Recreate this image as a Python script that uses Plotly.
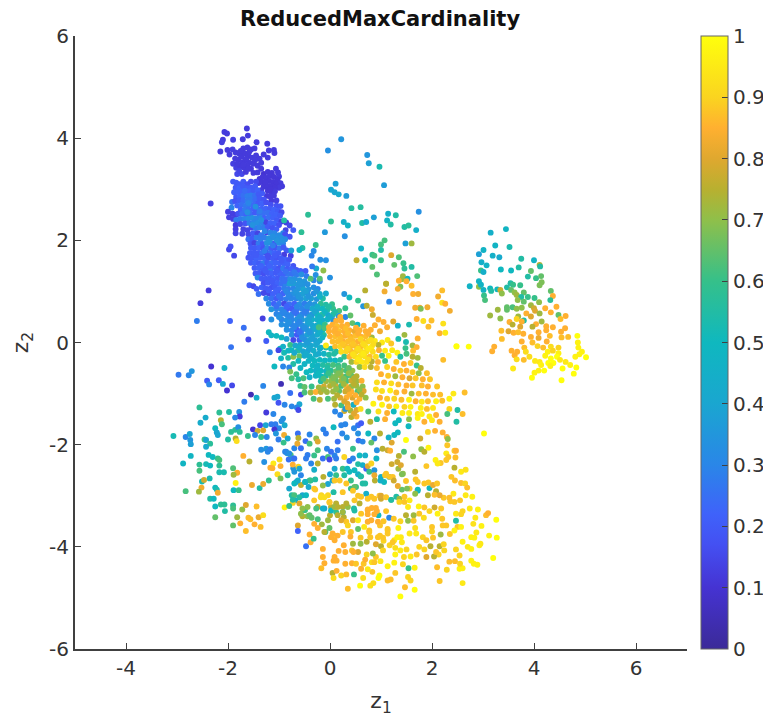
import plotly.graph_objects as go

# each entry: z1, z2, ReducedMaxCardinality
top_dark = [(-1.63,4.19,.12),(-2.07,4.12,.12),(-2.02,4.09,.12),(-1.61,4.05,.12),(-1.71,3.98,.12),(-1.9,3.97,.13),(-2.1,3.97,.12),(-2.12,3.92,.13),(-1.44,3.92,.12),(-1.23,3.89,.12),(-2.15,3.74,.12),(-2.01,3.77,.12),(-1.91,3.78,.13),(-1.97,3.68,.12),(-1.2,3.76,.12),(-1.1,3.77,.12),(-1.09,3.71,.12),
(-1.85,3.72,.12),(-1.78,3.7,.12),(-1.7,3.8,.12),(-1.62,3.82,.12),(-1.55,3.78,.12),(-1.48,3.8,.12),(-1.86,3.6,.12),(-1.8,3.58,.12),(-1.74,3.64,.12),(-1.67,3.7,.12),(-1.6,3.66,.12),(-1.53,3.62,.12),(-1.45,3.66,.12),(-1.38,3.6,.12),(-1.3,3.68,.12),(-1.22,3.62,.12),(-1.72,3.53,.12),(-1.66,3.57,.12),(-1.58,3.52,.12),(-1.5,3.5,.12),(-1.42,3.46,.12),(-1.84,3.42,.13),(-1.76,3.44,.12),(-1.68,3.42,.12),(-1.62,3.46,.12),(-1.55,3.4,.12),(-1.35,3.52,.12),(-1.9,3.5,.13),(-1.82,3.3,.15),(-1.73,3.3,.15),(-1.65,3.34,.12),(-1.5,3.32,.12),(-1.42,3.33,.12),
(-1.3,3.3,.1),(-1.22,3.34,.11),(-1.14,3.32,.11),(-1.06,3.4,.12),(-1.02,3.33,.12),(-1.0,3.25,.12),(-1.38,3.2,.11),(-1.32,3.24,.11),(-1.25,3.22,.11),(-1.18,3.26,.11),(-1.1,3.24,.11),(-1.03,3.18,.11),(-.97,3.12,.12),(-.94,3.06,.12),(-1.4,3.12,.12),(-1.33,3.14,.11),(-1.26,3.13,.11),(-1.19,3.16,.11),(-1.12,3.14,.11),(-1.05,3.1,.11),(-1.0,3.03,.12),(-1.3,3.05,.11),(-1.22,3.06,.11),(-1.15,3.06,.11),(-1.08,3.03,.11),(-1.22,2.97,.11),(-1.15,2.95,.11),(-1.08,2.96,.12),(-1.24,2.87,.12),(-1.17,2.86,.12),(-1.1,2.88,.12),(-1.15,2.78,.12),(-1.05,2.78,.13),
(-1.75,3.75,.12),(-1.58,3.74,.12),(-1.82,3.5,.12),(-1.64,3.6,.12),(-1.47,3.57,.12),(-1.6,3.4,.12),(-1.7,3.48,.12),(-1.78,3.36,.14),(-1.35,3.4,.12),(-1.27,3.14,.11),(-1.17,3.0,.11),(-1.35,2.98,.12)]

col_upper = [(-1.9,3.15,.2),(-1.84,3.13,.2),(-1.78,3.1,.2),(-1.7,3.15,.2),(-1.62,3.1,.17),(-1.55,3.15,.16),(-1.45,3.15,.16),(-1.85,3.03,.2),(-1.78,3.02,.22),(-1.7,3.05,.2),(-1.63,3.02,.2),(-1.55,3.03,.2),(-1.47,3.06,.2),(-1.88,2.94,.22),(-1.8,2.95,.22),(-1.73,2.96,.22),(-1.66,2.95,.24),(-1.58,2.96,.22),(-1.5,2.97,.2),(-1.42,2.98,.22),(-1.84,2.85,.2),(-1.77,2.86,.22),(-1.7,2.88,.25),(-1.62,2.87,.28),(-1.55,2.88,.28),(-1.47,2.88,.25),(-1.4,2.9,.2),(-1.33,2.92,.2),(-1.92,2.75,.25),(-1.86,2.77,.18),(-1.78,2.78,.2),(-1.7,2.78,.24),(-1.62,2.78,.27),(-1.54,2.79,.27),(-1.46,2.8,.24),(-1.38,2.82,.2),(-1.3,2.8,.18),(-2.34,2.72,.13),(-1.93,2.64,.3),(-1.82,2.68,.22),(-1.73,2.7,.25),(-1.65,2.68,.27),(-1.57,2.7,.27),(-1.49,2.7,.24),(-1.41,2.72,.2),(-1.33,2.72,.22),(-1.25,2.74,.17),(-1.16,2.7,.17),(-1.05,2.68,.18),(-.97,2.67,.18),(-2.0,2.56,.13),(-1.91,2.52,.13),(-1.84,2.5,.13),(-1.75,2.6,.22),(-1.67,2.6,.27),(-1.59,2.6,.25),(-1.5,2.62,.22),(-1.42,2.62,.24),(-1.34,2.62,.22),(-1.26,2.62,.22),(-1.18,2.62,.2),(-1.1,2.6,.22),(-1.02,2.58,.2),(-.95,2.55,.15),(-1.98,2.45,.13),(-1.9,2.42,.13),(-1.8,2.52,.18),(-1.72,2.52,.25),(-1.64,2.5,.22),(-1.56,2.52,.24),(-1.47,2.54,.2),(-1.39,2.52,.25),(-1.31,2.53,.25),(-1.22,2.54,.25),(-1.14,2.52,.22),(-1.06,2.5,.22),(-.98,2.48,.2),(-1.84,2.4,.28),(-1.76,2.42,.28),(-1.68,2.42,.3),(-1.6,2.43,.33),(-1.52,2.44,.33),(-1.44,2.43,.3),(-1.36,2.44,.3),(-1.28,2.44,.22),(-1.2,2.45,.25),(-1.12,2.44,.22),(-1.04,2.4,.2),(-.95,2.37,.13),(-.86,2.35,.13),(-1.85,2.3,.12),(-1.76,2.32,.15),(-1.66,2.33,.18),(-1.58,2.34,.28),(-1.5,2.35,.3),(-1.42,2.34,.33),(-1.33,2.35,.3),(-1.25,2.35,.14),(-1.17,2.34,.22),(-1.09,2.33,.22),(-1.0,2.3,.17),(-.79,2.29,.15),(-1.85,2.22,.13),(-1.7,2.22,.14),(-1.62,2.2,.14),(-1.54,2.25,.15),(-1.46,2.24,.28),(-1.38,2.25,.3),(-1.3,2.25,.28),(-1.22,2.26,.2),(-1.13,2.24,.18),(-1.05,2.22,.2),(-.87,2.2,.14),(-.72,2.2,.2),(-1.85,2.14,.14),(-1.72,2.13,.14),(-1.6,2.12,.15),(-1.51,2.14,.2),(-1.42,2.14,.14),(-1.35,2.1,.27),(-1.25,2.16,.14),(-1.17,2.15,.3),(-1.09,2.14,.3),(-1.0,2.1,.32),(-.92,2.14,.3),(-.88,2.12,.17),(-.79,2.07,.18)]

col_lower = [(-1.6,2.02,.25),(-1.52,2.04,.2),(-1.44,2.05,.28),(-1.36,2.02,.28),(-1.28,2.05,.28),(-1.2,2.04,.33),(-1.12,2.05,.33),(-1.04,2.03,.33),(-.96,2.05,.33),(-.88,2.02,.32),(-1.56,1.94,.18),(-1.48,1.95,.14),(-1.4,1.94,.27),(-1.32,1.93,.2),(-1.24,1.95,.33),(-1.16,1.95,.33),(-1.08,1.94,.18),(-1.0,1.95,.33),(-.92,1.94,.3),(-1.98,1.82,.15),(-1.95,1.88,.17),(-1.55,1.85,.2),(-1.47,1.85,.2),(-1.39,1.85,.22),(-1.31,1.84,.18),(-1.23,1.85,.3),(-1.15,1.84,.2),(-1.07,1.85,.18),(-.99,1.84,.26),(-.91,1.86,.2),(-.85,1.8,.2),(-1.88,1.7,.15),(-1.57,1.75,.2),(-1.49,1.76,.2),(-1.41,1.75,.2),(-1.33,1.75,.25),(-1.25,1.76,.15),(-1.17,1.75,.25),(-1.09,1.75,.22),(-1.01,1.75,.2),(-.9,1.72,.13),(-.77,1.7,.13),(-1.6,1.66,.18),(-1.52,1.66,.2),(-1.44,1.65,.22),(-1.36,1.66,.22),(-1.28,1.65,.22),(-1.2,1.66,.17),(-1.12,1.65,.2),(-1.04,1.66,.18),(-.96,1.65,.2),(-.88,1.62,.22),(-.8,1.62,.18),(-1.55,1.56,.2),(-1.47,1.56,.22),(-1.39,1.55,.2),(-1.31,1.55,.28),(-1.23,1.56,.2),(-1.15,1.55,.24),(-1.07,1.56,.22),(-.99,1.55,.22),(-.91,1.55,.22),(-.83,1.53,.22),(-.72,1.5,.18),(-1.48,1.46,.2),(-1.4,1.46,.22),(-1.32,1.45,.2),(-1.24,1.46,.2),(-1.16,1.45,.27),(-1.08,1.46,.22),(-1.0,1.45,.18),(-.92,1.45,.27),(-.84,1.44,.2),(-.76,1.44,.22),(-.66,1.42,.2),(-.58,1.4,.22),(-.48,1.4,.2),(-1.46,1.35,.2),(-1.38,1.36,.2),(-1.3,1.35,.17),(-1.22,1.36,.2),(-1.14,1.35,.22),(-1.06,1.36,.2),(-.98,1.35,.22),(-.9,1.34,.22),(-.82,1.34,.27),(-.74,1.34,.25),(-.66,1.32,.28),(-.56,1.33,.33),(-.46,1.3,.28),(-1.42,1.27,.3),(-1.34,1.25,.2),(-1.26,1.25,.2),(-1.18,1.26,.2),(-1.1,1.25,.22),(-1.02,1.26,.2),(-.94,1.25,.25),(-.86,1.24,.25),(-.78,1.24,.33),(-.7,1.24,.33),(-.6,1.22,.35),(-.5,1.2,.35),(-.32,1.22,.3),(-.2,1.2,.32),(-1.3,1.16,.17),(-1.22,1.17,.2),(-1.12,1.16,.2),(-1.03,1.16,.22),(-.95,1.15,.25),(-.87,1.15,.3),(-.79,1.15,.38),(-.71,1.15,.4),(-.63,1.13,.35),(-.54,1.12,.35),(-.44,1.14,.33)]

band = [(-1.58,1.12,.2),(-1.5,1.1,.15),(-1.44,1.05,.2),(-1.34,1.08,.22),(-1.26,1.06,.2),(-1.16,1.07,.18),(-1.08,1.08,.2),(-1,1.05,.22),(-.9,1.06,.28),(-.82,1.05,.28),(-.72,1.06,.3),(-.62,1.05,.35),(-.52,1.04,.4),(-.42,1.04,.35),(-.32,1.08,.33),(-.24,1.05,.3),(-1.4,.95,.25),(-1.3,.97,.15),(-1.2,.96,.15),(-1.12,.95,.22),(-1.02,.96,.2),(-.92,.96,.22),(-.82,.96,.3),(-.73,.95,.33),(-.64,.95,.35),(-.54,.95,.38),(-.44,.96,.33),(-.32,.96,.32),(-.2,.95,.42),(-.08,.96,.42),(-1.25,.86,.3),(-1.15,.86,.25),(-1.05,.86,.2),(-.96,.86,.25),(-.86,.85,.28),(-.76,.86,.3),(-.66,.86,.3),(-.57,.85,.35),(-.47,.86,.38),(-.37,.86,.38),(-.26,.85,.35),(-.14,.86,.55),(-1.2,.76,.32),(-1.1,.76,.22),(-1,.76,.27),(-.9,.76,.15),(-.8,.75,.25),(-.7,.76,.22),(-.6,.75,.33),(-.5,.76,.28),(-.4,.76,.33),(-.3,.75,.35),(-.18,.76,.58),(-.08,.74,.55),(.04,.75,.6),(-1.15,.65,.35),(-1.05,.66,.3),(-.95,.65,.3),(-.85,.65,.2),(-.75,.66,.2),(-.65,.65,.25),(-.55,.66,.3),(-.45,.65,.25),(-.35,.66,.42),(-.25,.65,.38),(-.15,.66,.5),(-.05,.64,.55),(.06,.66,.6),(.18,.62,.62),(.3,.67,.6),(-1.05,.56,.3),(-.95,.56,.3),(-.85,.55,.3),(-.75,.55,.3),(-.65,.56,.25),(-.55,.55,.3),(-.45,.56,.3),(-.35,.55,.35),(-.25,.55,.5),(-.15,.55,.55),(-.04,.54,.4),(.06,.55,.55),(.17,.52,.35),(.3,.5,.3),(.4,.53,.65),(-1.15,.45,.33),(-.95,.45,.3),(-.85,.44,.33),(-.75,.45,.3),(-.65,.45,.33),(-.55,.45,.35),(-.45,.44,.38),(-.35,.45,.45),(-.25,.45,.45),(-.15,.44,.45),(-.05,.45,.48),(.06,.44,.33),(-.95,.35,.33),(-.85,.34,.33),(-.75,.35,.3),(-.65,.35,.3),(-.55,.34,.33),(-.45,.35,.38),(-.35,.34,.4),(-.25,.34,.45),(-.15,.33,.55),(-.85,.25,.33),(-.75,.24,.3),(-.65,.25,.2),(-.55,.24,.28),(-.45,.25,.35),(-.35,.24,.38),(-.25,.24,.4),(-.15,.24,.5),(-.75,.15,.33),(-.65,.15,.2),(-.55,.14,.3),(-.45,.15,.38),(-.35,.14,.38),(-.25,.15,.42),(-.12,.15,.55),(-1.2,.2,.5),(-1.15,.14,.47),(-1.05,.13,.5),(-.95,.1,.5),(-.85,.07,.38),(-.72,.05,.15),(-.6,.05,.2),(-.5,.06,.33),(-.4,.05,.38),(-.3,.05,.38),(-.2,.04,.42),(-1.25,.03,.2),(-.78,-.05,.6),(-.68,-.06,.4),(-.58,-.05,.38),(-.48,-.05,.4),(-.38,-.06,.4),(-.28,-.05,.42),(-.75,-.15,.5),(-.63,-.16,.55),(-.53,-.17,.4),(-.43,-.16,.38),(-.32,-.16,.45),(-.9,-.2,.52),(-.82,-.3,.55),(-.72,-.28,.7),(-.6,-.27,.65),(-.5,-.26,.42),(-.4,-.27,.45)]

band_between = [(-1.67,2.97,.24),(-1.6,2.73,.3),(-1.46,2.66,.33),(-1.62,2.55,.33),(-1.38,2.57,.28),(-1.52,2.3,.34),(-1.35,2.4,.33),(-1.28,2.18,.3),(-1.12,2.08,.33),(-1.2,1.99,.34),(-1.04,2.0,.34),(-.94,2.0,.33),(-1.12,1.9,.28),(-1.28,1.79,.28),(-1.45,1.71,.2),(-1.22,1.7,.17),(-1.08,1.7,.2),(-.95,1.6,.2),(-1.35,1.5,.22),(-1.19,1.5,.22),(-1.04,1.41,.2),(-.87,1.39,.25),(-.7,1.38,.27),(-1.27,1.41,.2),(-1.14,1.21,.2),(-.9,1.2,.25),(-.74,1.19,.35),(-.58,1.17,.35),(-1.2,1.02,.2),(-1.06,1.01,.22),(-.86,1.01,.3),(-.67,1.0,.35),(-.47,1.0,.38),(-.27,1.0,.35),(-1.0,.91,.25),(-.81,.91,.3),(-.62,.9,.35),(-.42,.9,.35),(-.2,.9,.45),(-1.05,.71,.25),(-.85,.71,.22),(-.65,.7,.3),(-.45,.7,.33),(-.25,.7,.45),(-.02,.7,.55),(-.9,.6,.3),(-.7,.6,.25),(-.5,.6,.28),(-.3,.6,.4),(-.1,.6,.48),(.1,.6,.55),(-1,.5,.33),(-.8,.5,.3),(-.6,.5,.33),(-.4,.5,.38),(-.2,.5,.45),(0,.5,.45),(-.8,.4,.33),(-.6,.4,.3),(-.4,.4,.4),(-.2,.39,.5),(-.7,.3,.3),(-.5,.29,.33),(-.3,.29,.42),(-.1,.35,.6),(-.6,.2,.25),(-.4,.2,.35),(-.2,.2,.45),(-.55,.1,.33),(-.35,.1,.38),(-.15,.1,.47),(-.45,0,.37),(-.25,-.01,.4),(-.6,-.1,.45),(-.4,-.11,.4),(-.2,-.12,.42),(-.47,-.22,.42),(-.28,-.24,.45),(-.35,-.32,.47),
(-.92,-.08,.45),(-.98,-.12,.5),(-.7,-.2,.42),(-.82,-.16,.48),(-.62,-.36,.5),(-.72,-.42,.55),(-.5,-.42,.47),(-.58,-.5,.48),(-.46,-.58,.5),(-.66,-.62,.6),(-.75,-.7,.62)]

green_core = [(-.22,.3,.62),(-.1,.28,.62),(-.02,.3,.85),(-.42,-.36,.47),(-.3,-.36,.5),(-.2,-.34,.5),(-.1,-.35,.5),(0,-.34,.47),(.1,-.35,.5),(.2,-.34,.55),(-.18,-.1,.45),(-.08,-.1,.55),(.02,-.12,.52),(-.22,-.22,.42),(-.12,-.22,.47),(-.02,-.24,.55),(.08,-.22,.55),(-.34,-.45,.5),(-.24,-.45,.47),(-.14,-.44,.55),(-.04,-.45,.58),(.06,-.44,.62),(.16,-.45,.6),(.28,-.45,.62),(-.38,-.55,.5),(-.28,-.55,.45),(-.18,-.55,.5),(-.08,-.56,.47),(.02,-.55,.58),(.12,-.56,.65),(.22,-.55,.68),(.32,-.55,.62),(.44,-.55,.7),(-.28,-.65,.47),(-.18,-.66,.5),(-.08,-.65,.55),(.02,-.65,.65),(.12,-.66,.68),(.22,-.65,.72),(.32,-.66,.62),(.42,-.65,.65),(.52,-.66,.75),(-.62,-.72,.55),(-.52,-.7,.62),(-.4,-.68,.45),(-.18,-.76,.55),(-.08,-.76,.72),(.02,-.75,.7),(.12,-.76,.65),(.22,-.75,.72),(.32,-.76,.62),(.42,-.75,.78),(.52,-.76,.72),(.62,-.75,.85),(-.58,-.85,.6),(-.5,-.87,.65),(-.36,-.86,.6),(-.22,-.88,.72),(-.12,-.86,.78),(0,-.85,.75),(.12,-.86,.8),(.22,-.85,.62),(.32,-.86,.85),(.42,-.86,.7),(.52,-.85,.72),(.64,-.86,.7),(-.5,-.98,.62),(-.38,-.98,.72),(-.28,-.97,.85),(-.18,-.97,.75),(-.06,-.97,.72),(.06,-.96,.72),(.18,-.95,.65),(.3,-.96,.78),(.42,-.96,.85),(.54,-.96,.62),(.66,-.95,.8),(-.32,-1.1,.62),(-.2,-1.12,.75),(-.04,-1.1,.62),(.08,-1.1,.72),(.2,-1.08,.8),(.32,-1.08,.85),(.44,-1.08,.8),(.58,-1.1,.85),(.7,-1.08,.7),(.1,-1.22,.75),(.22,-1.23,.62),(.34,-1.2,.8),(.46,-1.22,.85),(.28,-1.34,.78),(.4,-1.33,.72),(.52,-1.32,.8),(.1,-1.35,.3),(.2,-1.42,.3),(.3,-1.3,.35),(.42,-1.46,.75),(.52,-1.45,.85),(.46,-1.22,.45),(.6,-1.3,.92),
(-.25,-.5,.47),(-.05,-.5,.55),(.17,-.5,.62),(.37,-.5,.65),(-.23,-.6,.5),(-.03,-.6,.6),(.17,-.6,.68),(.37,-.6,.7),(-.13,-.71,.62),(.07,-.7,.68),(.27,-.71,.68),(.47,-.7,.75),(.07,-.81,.72),(.27,-.81,.72),(.47,-.81,.75),(.58,-.92,.7),(.12,-.91,.7),(.36,-.91,.8),(-.12,-.92,.72),(.14,-1.03,.75),(.38,-1.02,.85),(.5,-1.03,.85),(.62,-1.02,.75),(.28,-1.15,.8),(.52,-1.17,.85),(.35,-1.27,.82),(.47,-1.39,.8)]

core = [(.2,.5,.85),(.12,.42,.85),(.22,.42,.85),(.05,.35,.85),(.14,.32,.87),(.24,.32,.85),(.34,.35,.85),(.44,.38,.65),(.54,.35,.5),(.66,.33,.85),(-.02,.22,.85),(.08,.22,.85),(.18,.22,.87),(.28,.22,.85),(.38,.24,.85),(.48,.22,.82),(.58,.24,.85),(.7,.22,.85),(.8,.25,.85),(.0,.12,.85),(.1,.12,.87),(.2,.12,.87),(.3,.13,.85),(.4,.12,.85),(.5,.13,.87),(.6,.12,.85),(.7,.12,.87),(.82,.1,.72),(.05,.02,.87),(.15,.02,.87),(.25,.03,.85),(.35,.02,.87),(.45,.03,.87),(.55,.02,.85),(.65,.02,.87),(.75,.02,.9),(.88,.03,.95),(-.08,-.06,.95),(.1,-.08,.87),(.2,-.08,.9),(.3,-.07,.87),(.4,-.08,.87),(.5,-.07,.87),(.6,-.08,.87),(.7,-.08,.92),(.82,-.08,.95),(.95,-.05,.75),(.12,-.18,.55),(.22,-.18,.92),(.32,-.17,.9),(.42,-.18,.87),(.52,-.17,.9),(.62,-.18,.92),(.72,-.17,.92),(.84,-.18,.92),(.96,-.15,.85),(1.08,-.16,.95),(.28,-.28,.6),(.38,-.28,.85),(.48,-.27,.92),(.58,-.28,.93),(.68,-.27,.93),(.78,-.28,.87),(.9,-.28,.92),(1.02,-.26,.6),(.42,-.38,.72),(.52,-.38,.9),(.62,-.38,.95),(.72,-.38,.93),(.82,-.37,.75),(.94,-.38,.85),(1.08,-.36,.6),(.58,-.48,.7),(.68,-.48,.92),(.8,-.48,.75),(.92,-.5,.87),
(.15,.17,.85),(.35,.18,.87),(.55,.18,.85),(.75,.17,.85),(.1,.27,.85),(.31,.28,.87),(.51,.29,.85),(.2,.07,.87),(.4,.07,.87),(.6,.07,.9),(.8,.05,.92),(.25,-.03,.88),(.45,-.03,.88),(.65,-.03,.92),(.85,-.03,.92),(.35,-.12,.9),(.55,-.12,.92),(.75,-.12,.95),(.45,-.23,.93),(.65,-.22,.95),(.55,-.33,.95),(.75,-.33,.92)]

right_of_core = [(1.13,.05,.95),(1.02,.0,.95),(1.2,-.02,.88),(1.22,-.15,.95),(1.15,-.26,.97),(1.32,-.2,.97),(1.38,-.28,.55),(1.5,-.22,.62),(1.62,-.28,.75),(1.72,-.3,.72),(1.3,-.38,.88),(1.45,-.42,.85),(1.58,-.4,.88),(1.7,-.45,.6),(1.78,-.5,.75),(1.12,-.48,.9),(1.25,-.52,.85),(1.38,-.55,.88),(1.5,-.55,.85),(1.62,-.58,.88),(1.74,-.6,.7),(1.9,-.6,.87),(1.0,-.62,.85),(1.14,-.65,.88),(1.28,-.66,.72),(1.42,-.68,.85),(1.56,-.7,.8),(1.68,-.7,.88),(1.82,-.72,.85),(1.96,-.72,.88),(.92,-.78,.92),(1.06,-.78,.85),(1.2,-.8,.92),(1.34,-.82,.87),(1.5,-.84,.85),(1.62,-.84,.88),(1.8,-.84,.87),(1.92,-.86,.85),(2.1,-.86,.88),(.9,-.92,.92),(1.02,-.95,.92),(1.18,-.94,.97),(1.3,-.98,.87),(1.46,-.96,.85),(1.6,-1.0,.72),(1.74,-1.0,.87),(1.88,-1.0,.85),(2.02,-1.02,.87),(2.16,-1.02,.87),(2.42,-1.0,.95),(2.64,-.98,.87),(.98,-1.08,.85),(1.12,-1.1,.88),(1.26,-1.1,.9),(1.4,-1.12,.87),(1.55,-1.12,.97),(1.68,-1.15,.85),(1.8,-1.16,.95),(1.92,-1.15,.87),(2.08,-1.15,.97),(2.2,-1.14,.87),(2.34,-1.1,.97),(.85,-1.2,.97),(1.02,-1.22,.97),(1.16,-1.25,.88),(1.3,-1.25,.97),(1.46,-1.26,.9),(1.58,-1.26,.97),(1.78,-1.28,.97),(1.9,-1.3,.87),(2.02,-1.28,.95),(2.34,-1.3,.9),(2.5,-1.32,.55),(.75,-1.35,.62),(.95,-1.35,.93),(1.12,-1.38,.85),(1.25,-1.35,.5),(1.42,-1.38,.95),(1.55,-1.38,.97),(1.72,-1.4,.95),(1.8,-1.4,.97),(1.95,-1.45,.95),(2.08,-1.42,.85),(2.3,-1.4,.62),(2.6,-1.4,.87),(.92,-1.5,.55),(1.08,-1.5,.85),(1.35,-1.52,.5),(1.55,-1.5,.7),(1.72,-1.48,.97),(1.85,-1.55,.85),(2.0,-1.52,.95),(2.15,-1.55,.85),(2.48,-1.55,.55)]

upper_orange = [(1.1,1.15,.75),(1.07,1.0,.83),(1.33,1.05,.83),(.69,1.02,.75),(1.63,.95,.85),(1.73,.95,.83),(2.12,.9,.83),(2.2,1.02,.87),(1.35,.77,.85),(2.2,.78,.93),(2.26,.76,.85),(1.67,.68,.83),(1.76,.68,.83),(1.78,.66,.68),(1.91,.69,.83),(2.35,.62,.83),(1.24,.41,.8),(1.7,.46,.85),(1.83,.42,.92),(1.99,.43,.87),(2.22,.37,.93),(1.93,.31,.87),(1.55,.35,.53),(1.33,.33,.45),(2.15,.18,.85),(2.26,.19,.95),(1.46,.15,.72),(1.72,.08,.85),(1.34,.07,.53),(1.49,.01,.53),(2.48,-.07,1),(2.22,-.34,.87),(1.16,.8,.3),(.65,.71,.35),(.82,.65,.83),(.84,.54,.77),(1.62,-.06,.72),(1.48,-.11,.6),(1.7,-.09,.85),(1.63,-.16,.87),(.28,.95,.35),(.38,.88,.5),(.55,.82,.6),(.72,.72,.75),(.95,.45,.85),(1.05,.4,.85),(1.12,.3,.85),(.88,.34,.85),(.98,.22,.83)]

upper_scatter = [(.22,3.98,.35),(-.04,3.76,.33),(.73,3.67,.35),(.76,3.51,.38),(.97,3.44,.53),(1.06,3.08,.37),(.11,3.11,.38),(.02,2.99,.4),(.09,2.94,.4),(.17,2.9,.42),(.32,2.87,.37),(.42,2.63,.56),(.6,2.65,.56),(-.43,2.5,.58),(-.9,2.39,.55),(.02,2.37,.58),(.27,2.36,.45),(.35,2.29,.47),(.63,2.34,.55),(.71,2.36,.42),(.86,2.45,.38),(1.14,2.52,.45),(1.29,2.49,.55),(1.12,2.39,.47),(1.19,2.31,.55),(1.74,2.56,.33),(1.46,2.26,.55),(1.54,2.29,.57),(1.69,2.2,.45),(-.1,2.16,.36),(-.56,2.16,.58),(.29,2.08,.33),(1.48,1.94,.38),(1.6,1.94,.72),(1.07,2,.62),(1,1.92,.62),(1,1.81,.55),(.61,1.84,.47),(-.28,1.91,.6),(-.54,1.85,.55),(-.6,1.81,.48),(-.76,1.8,.38),(-.32,1.79,.32),(.52,1.61,.76),(.69,1.61,.5),(.83,1.72,.6),(.87,1.7,.62),(1,1.61,.6),(1.2,1.71,.8),(1.35,1.67,.63),(.83,1.48,.65),(1.26,1.52,.65),(1.44,1.55,.6),(1.46,1.45,.58),(1.6,1.48,.55),(.92,1.33,.63),(1.43,1.3,.72),(1.71,1.3,.63),(1.41,1.24,.72),(1.52,1.25,.5),(1.35,1.21,.85),(1.5,1.2,.85),(1.1,1.15,.8),(1.6,1.11,.87),(1.38,1.09,.68),(-.19,1.62,.33),(-.08,1.61,.33),(-.36,1.7,.3),(-.27,1.45,.43),(-.13,1.41,.7),(-.35,1.49,.27),(-.28,1.32,.33),(-.38,1.25,.63),(-.2,1.25,.63),(0,1.27,.33)]

left_lower = [(-2.38,1.02,.12),(-2.54,.77,.12),(-2.61,.42,.28),(-1.96,.42,.22),(-1.69,.29,.25),(-1.6,.06,.15),(-1.94,-.09,.26),(-2.33,-.47,.1),(-2.07,-.5,.47),(-2.97,-.63,.27),(-2.77,-.64,.3),(-2.71,-.56,.35),(-2.41,-.75,.2),(-2.37,-.82,.3),(-2.18,-.74,.2),(-2.1,-.81,.42),(-1.92,-.84,.15),(-2.02,-.94,.1),(-1.31,-.85,.3),(-.96,-.81,.05),(-1.55,-1.02,.05),(-1.44,-1.08,.45),(-1.68,-1.16,.28),(-1.09,-1.08,.4),(-1.03,-1.06,.4),(-1.01,-1.18,.18),(-.78,-.99,.25),(-.57,-1.02,.15),(-.89,-1.22,.3),(-.75,-1.25,.3),(-.6,-1.21,.4),(-.65,-1.27,.3),(-.62,-1.32,.15),(-1.18,-.19,.3),(-1.01,-.15,.15),(-.96,-.31,.47),(-1.09,-.47,.5),(-.92,-.47,.3),(-.8,-.49,.3),(-.78,-.57,.68),(-1.32,.47,.13),
(-3.07,-1.83,.52),(-2.83,-1.85,.3),(-2.75,-1.79,.4),(-2.74,-1.91,.35),(-2.73,-1.99,.38),(-2.56,-1.27,.58),(-2.44,-1.47,.43),(-2.54,-1.57,.43),(-2.17,-1.37,.58),(-1.98,-1.36,.55),(-1.78,-1.36,.33),(-1.77,-1.45,.12),(-1.86,-1.47,.3),(-2.14,-1.52,.75),(-2.12,-1.6,.62),(-2.25,-1.68,.5),(-2.22,-1.76,.4),(-2.2,-1.81,.4),(-2.46,-1.9,.62),(-2.43,-1.91,.4),(-2.35,-1.98,.57),(-2.43,-2.04,.42),(-1.94,-1.75,.58),(-1.86,-1.71,.58),(-1.8,-1.66,.33),(-1.77,-1.75,.58),(-2,-1.9,.55),(-1.85,-1.88,.75),(-1.83,-1.93,.92),(-1.61,-1.83,.6),(-2.73,-2.22,.48),(-2.88,-2.37,.48),(-2.38,-2.2,.5),(-2.3,-2.24,.5),(-2.2,-2.27,.6),(-2.17,-2.3,.62),(-2.56,-2.39,.58),(-2.43,-2.38,.52),(-2.35,-2.41,.5),(-2.17,-2.41,.58),(-2.56,-2.51,.62),(-2.17,-2.54,.53),(-2.08,-2.54,.53),(-1.9,-2.46,.63),(-1.82,-2.55,.85),(-1.89,-2.59,.72),(-1.7,-2.22,.85),(-1.58,-2.33,.75),(-2.36,-2.66,.53),(-2.51,-2.72,.52),(-2.47,-2.69,.78),(-2.52,-2.84,.83),(-2.57,-2.92,.72),(-2.83,-2.91,.62),(-2.25,-2.84,.5),(-2.22,-2.88,.53),(-2.2,-2.94,.83),(-1.85,-2.75,.97),(-1.89,-2.89,.5),(-1.79,-2.89,.6),(-2.35,-3.06,.55),(-2.28,-3.06,.5),(-1.53,-2.79,.82),(-1.38,-2.85,.55),(-1.31,-2.77,.82),(-1.2,-2.7,.6),(-2.25,-3.21,.5),(-2.14,-3.17,.58),(-2.07,-3.17,.58),(-2.06,-3.3,.55),(-1.9,-3.19,.58),(-1.9,-3.25,.62),(-1.72,-3.27,.7),(-1.65,-3.18,.8),(-1.44,-3.21,.87),(-2.25,-3.42,.65),(-1.82,-3.42,.72),(-1.9,-3.58,.65),(-1.76,-3.54,.85),(-1.6,-3.43,.87),(-1.56,-3.46,.87),(-1.4,-3.42,.82),(-1.31,-3.38,.92),(-1.48,-3.56,.85),(-1.36,-3.61,.87),(-1.65,-3.69,.87)]

bottom_mid = [(-1.25,-1.37,.12),(-1.11,-1.4,.3),(-.92,-1.49,.33),(-.95,-1.54,.33),(-1.37,-1.62,.15),(-1.26,-1.62,.4),(-1.15,-1.6,.28),(-1.07,-1.6,.28),(-1,-1.68,.3),(-.89,-1.62,.42),(-1.51,-1.7,.1),(-1.42,-1.73,.78),(-1.31,-1.72,.8),(-1.09,-1.7,.1),(-1.06,-1.78,.35),(-1.47,-1.81,.3),(-1.35,-1.85,.6),(-1.24,-1.85,.3),(-1.01,-1.9,.28),(-.9,-1.81,.83),(-.83,-1.88,.4),(-.91,-1.96,.6),(-1.35,-2.1,.33),(-1.25,-2.08,.35),(-1.17,-2.09,.28),(-1.22,-2.14,.3),(-.88,-2.14,.3),(-.84,-2.17,.35),(-.77,-2.2,.62),(-.81,-2.29,.25),(-.7,-2.07,.3),(-.73,-2.27,.3),(-1.11,-2.37,.95),(-1.29,-2.34,.33),(-.99,-2.29,.92),(-.97,-2.42,.85),(-1.17,-2.45,.85),(-1.13,-2.46,.85),(-1.03,-2.58,.92),(-.97,-2.66,.68),(-.83,-2.6,.55),(-.72,-2.46,.35),(-.62,-2.43,.9),(-.73,-2.39,.85),(-.64,-1.98,.82),
(-.63,-1.78,.25),(-.4,-1.8,.3),(-.48,-1.93,.25),(-.62,-1.87,.75),(-.27,-1.88,.7),(-.4,-1.98,.62),(-.24,-1.94,.8),(-.13,-1.7,.3),(-.08,-1.78,.28),(.07,-1.66,.5),(.22,-1.62,.3),(.3,-1.6,.3),(.24,-1.78,.3),(.33,-1.86,.35),(.15,-1.94,.25),(.55,-1.62,.25),(.61,-1.58,.2),(.47,-1.68,.3),(.55,-1.78,.33),(.56,-1.92,.25),(.64,-1.94,.3),(.79,-1.55,.75),(.75,-1.78,.5),(.87,-1.88,.3),(.81,-1.96,.65),(.98,-1.78,.75),(1.15,-1.86,.45),(1.21,-1.96,.8),(1.26,-1.81,.5),(1.33,-1.76,.5),(1.28,-1.58,.5),(1.54,-1.64,.5),(1.49,-1.91,1),(.92,-2.11,.33),(1.03,-2.08,.75),(1.13,-2.11,.78),(1.18,-2.12,.85),(1.45,-2.14,.62),(1.35,-2.22,.75),(1.63,-2.23,.7),(1.79,-2.09,.7),(1.85,-2.14,.75),(1.93,-2.06,.97),(1.77,-1.88,.78),(1.92,-1.75,.9),(2.06,-1.73,.85),(2.21,-1.76,.85),(2.29,-1.85,.85),(2.31,-1.89,.7),(3.02,-1.78,1),(.55,-2.58,.45),(.6,-2.62,.5),(.38,-2.53,.5),(.28,-2.6,.55),(.19,-2.7,.88),(.12,-2.6,.6),(.05,-2.7,.4),(-.04,-2.77,.4),(-.13,-2.63,.75),(-.29,-2.68,.55),(-.38,-2.7,.58),(-.48,-2.73,.35),(-.66,-2.73,.35),(-.42,-2.83,.42),(-.29,-2.88,.88),(-.57,-2.79,.75),(-.8,-2.86,.4),(-.75,-2.99,.55),(-.54,-2.99,.4),(-.68,-3.09,.45),(-.73,-3.14,.9),(-.89,-3.23,.97),(-.8,-3.2,.6),(-.6,-3.15,.8),(-.5,-3.28,.75),(-.54,-3.4,.75),(-.44,-3.4,.7),(-.36,-3.43,.65),(-.24,-3.46,.62),(-.63,-3.58,.8),(-.63,-3.69,.22),(-.47,-3.99,.25),(-.17,-2.99,.9),(-.01,-3.12,.88),(-.04,-2.99,.9),(.07,-2.93,.55),(.25,-2.93,.88),(.41,-2.86,.6),(.51,-2.83,.6),(.64,-2.76,.55),(.71,-2.96,.45),(.81,-3.02,.88),(.97,-3,.88),(1,-3.06,.78),(1.2,-3.08,.6),(1.3,-3.02,.55),(-.24,-3.22,.75),(-.11,-3.25,.4),(.02,-3.22,.75),(.12,-3.15,.75),(.25,-3.22,.75),(.35,-3.22,.7),(.47,-3.25,.55),(.61,-3.35,.88),(.27,-3.42,.75),(.32,-3.51,.88),(.45,-3.48,.8),(.55,-3.48,.95),(0,-3.38,.75),(.12,-3.32,.6),(.25,-3.32,.4),(1.16,-3.43,.3),(.95,-3.38,.5),(.48,-3.09,.88),(.61,-3.02,.88)]

bottom_extra = [(-.86,-2.14,.3),(-.8,-2.17,.33),(-.7,-2.27,.25),(-.57,-2.07,.25),(-.44,-2.2,.28),(-.47,-2.27,.28),(-.37,-2.37,.3),(-.31,-2.49,.45),(-.24,-2.37,.75),(-.14,-2.27,.25),(-.04,-2.24,.62),(-.01,-2.29,.15),(.09,-2.21,.3),(.15,-2.11,.28),(.28,-2.24,.9),(.38,-2.32,.25),(.45,-2.27,.3),(.55,-2.38,.55),(.64,-2.4,.45),(.71,-2.47,.22),(.74,-2.42,.8),(.81,-2.37,.9),(.91,-2.27,.48),(.58,-2.21,.5),(.69,-2.21,.45),(.45,-2.08,.6),(-.06,-2.08,.3),(.02,-2.14,.25),(.12,-2.27,.28),(-.24,-2.11,.62),(-.31,-2.21,.6),
(-.7,-2.53,.35),(-.6,-2.47,.4),(-.57,-2.6,.3),(.0,-2.58,.4),(.09,-2.47,.42),(.25,-2.47,.6),(.34,-2.47,.5),(.48,-2.5,.5),(.61,-2.62,.55),(.77,-2.53,.6),(.87,-2.5,.35),(1.0,-2.63,.45),(1.06,-2.73,.5),(1.16,-2.63,.45),(1.1,-2.57,.88),(1.23,-2.63,.88),(1.43,-2.57,.7),(.88,-2.7,.75),(.69,-2.76,.55),(.48,-2.83,.65),(.41,-2.7,.6),(.32,-2.76,.88),(.09,-2.7,.88),(-.14,-2.8,.7),(-.31,-2.86,.88),(-.4,-2.7,.6),(-.49,-2.73,.5),(-.63,-2.7,.45),(-.7,-2.76,.5),
(-.7,-2.99,.62),(-.73,-3.08,.55),(-.6,-3.03,.55),(-.47,-2.99,.5),(-.31,-3.09,.88),(-.18,-3.03,.92),(-.11,-3.03,.92),(-.01,-3.13,.88),(.02,-3.29,.5),(.09,-3.22,.72),(.15,-3.22,.75),(.25,-3.32,.72),(-.14,-3.25,.45),(-.27,-3.25,.62),(.45,-2.9,.88),(.55,-3.0,.88),(.74,-3.06,.88),(.87,-3.06,.88),(1.0,-3.0,.8),(1.1,-3.03,.88),(1.2,-3.08,.55),(1.36,-3.06,.72),(1.46,-3.02,.88),(1.41,-2.88,.65),(1.56,-2.86,.88),(1.72,-2.9,.5),(1.85,-2.76,.88),(1.36,-3.12,.9),(.74,-3.29,.88),(.48,-3.29,.55),(.58,-3.15,.75),(.32,-3.15,.75),(.15,-3.38,.75),(.22,-3.48,.8),(-.04,-3.48,.72),(-.16,-3.56,.72),(-.09,-3.71,.62),(.09,-3.78,.88),(-.4,-3.38,.65),(-.57,-3.35,.7),(-.49,-3.28,.6),(-.44,-3.22,.7),(-.54,-3.25,.7),
(.35,-3.58,.9),(.55,-3.65,.65),(.67,-3.61,.95),(.77,-3.68,.88),(.98,-3.58,.88),(1.13,-3.68,.9),(.94,-3.81,.88),(1.26,-3.87,.95),(1.39,-3.81,.95),(.6,-3.82,.88),(.72,-3.9,.75),(.9,-3.95,.8),(1.05,-3.88,.9),(.55,-4.1,.8),(.72,-4.15,.9),(.9,-4.2,.88),(1.45,-4.2,.9),(1.7,-4.15,.88),(1.85,-4.05,.9),(2.0,-3.7,.9),(2.35,-3.75,.88),(2.6,-3.9,.97),(2.6,-3.3,.9),(2.2,-3.45,.88),(1.95,-3.3,.9),(1.75,-3.35,.88),(1.25,-3.45,.88),(1.38,-3.5,.9),(1.05,-3.5,.88),(1.1,-3.3,.88)]

bottom_right = [(2.3,-2.01,.88),(2.44,-2.12,.88),(2.47,-2.12,.85),(2.28,-2.17,.95),(2.32,-2.24,.88),(2.46,-2.25,.87),(2.28,-2.3,.88),(2.17,-2.36,.88),(2.07,-2.3,.97),(2.11,-2.37,.95),(1.89,-2.42,.88),(1.67,-2.53,.75),(1.41,-2.58,.68),(1.21,-2.38,.78),(1.32,-2.34,.78),(1.34,-2.47,.72),(1.39,-2.4,.8),(2.44,-2.45,.75),(2.38,-2.63,.88),(2.45,-2.7,.87),(2.57,-2.53,.95),(2.66,-2.49,.93),(2.57,-2.75,.87),(2.65,-2.76,.9),(2.69,-2.84,.87),(1.95,-2.85,.5),(1.93,-2.74,.88),(2.02,-2.79,.82),(2.1,-2.76,.88),(2.08,-2.91,.75),(1.72,-2.73,.88),(1.68,-2.68,.88),(1.72,-2.88,.5),(1.67,-2.96,.7),(1.49,-2.71,.88),(1.51,-2.86,.68),(1.33,-2.81,.82),(1.25,-2.7,.78),(1.17,-2.63,.88),(1.08,-2.6,.88),(.99,-2.7,.45),(.87,-2.6,.82),
(-.4,-3.76,.85),(-.38,-3.91,.85),(-.32,-3.84,.6),(-.31,-3.55,.85),(-.24,-3.63,.85),(-.11,-3.71,.75),(-.01,-3.63,.65),(.05,-3.74,.85),(.09,-3.87,.85),(.02,-3.81,.85),(.15,-3.78,.85),(.25,-3.71,.88),(.41,-3.71,.88),(.4,-3.8,.85),(.45,-3.94,.72),(.6,-3.94,.7),(.27,-3.97,.85),(.17,-4.08,.85),(.3,-4.1,.85),(.43,-4.07,.88),(.46,-4.1,.85),(-.14,-4.04,.85),(-.14,-4.2,.85),(-.11,-4.32,.85),(-.17,-4.42,.87),(.09,-4.2,.85),(.07,-4.27,.85),(.13,-4.27,.85),(.05,-4.51,.75),(.13,-4.47,.85),(.07,-4.61,.92),(.22,-4.56,.9),(.32,-4.54,.87),(.47,-4.54,.6),(.3,-4.33,.85),(.43,-4.32,.85),(.51,-4.33,.88),(.61,-4.43,.85),(.66,-4.33,.88),(.69,-4.25,.85),(.65,-4.61,.92),(.59,-4.76,1),(.35,-4.82,.87),(.79,-4.76,.93),(.85,-4.71,.92),(.95,-4.61,1),(.97,-4.56,1),(.83,-4.49,.88),(.74,-4.44,.95),(.82,-4.3,.92),(.87,-4.3,.88),(.99,-4.28,.95),(1.13,-4.38,.97),(1.26,-4.31,.97),(1.43,-4.34,.9),(1.54,-4.42,.6),(1.66,-4.41,.97),(1.28,-4.51,.88),(1.53,-4.59,.9),(1.13,-4.66,.87),(1.19,-4.64,.87),(1.58,-4.66,.9),(1.47,-4.79,.87),(1.66,-4.84,1),(1.38,-4.97,1),(2.15,-4.67,.88),(2.6,-4.71,.95),(2.1,-4.4,.87),(2.29,-4.45,.9),(2.54,-4.43,.97),(2.6,-4.42,.97),(2.55,-4.33,.9),(3.2,-4.22,1),(2.89,-4.35,.97),(2.82,-4.33,.97),(2.77,-4.27,.97),(2.45,-4.28,.87),(2.34,-4.29,.87),(2.54,-4.17,.9),(2.13,-4.15,.9),(2.04,-4.19,.75),(1.89,-4.2,.8),(2.08,-4.1,.88),(1.97,-3.99,.75),(2.15,-3.99,.75),(2.23,-3.95,.9),(2.24,-4.07,.9),(2.47,-4.05,.9),(2.7,-4,.95),(2.77,-4.04,.97),(2.93,-3.97,.97),(2.95,-3.94,.95),(3.27,-3.82,1),(3.12,-3.78,.97),(2.77,-3.81,.97),(2.83,-3.82,.97),(2.87,-3.72,.95),(2.81,-3.55,.93),(2.85,-3.43,.95),(2.97,-3.59,.97),(3.26,-3.47,1),(3.06,-3.38,.87),(3.1,-3.34,.85),(2.9,-3.27,.97),(2.74,-3.25,.95),(2.79,-3.02,.97),(2.66,-2.99,.95),(2.55,-3.09,.88),(2.44,-3.12,.88),(2.36,-3.11,.88),(2.42,-2.96,.95),(2.23,-3.04,.88),(2.34,-3.04,.87),(2.15,-2.99,.82),(2.05,-2.98,.87),(1.92,-2.99,.75),(1.53,-3.22,.95),(1.46,-3.12,.88),(1.56,-3.09,.95),(1.74,-3.21,.97),(1.85,-3.23,.88),(2.05,-3.23,.78),(2.11,-3.35,.97),(2.18,-3.25,.88),(2.47,-3.35,.95),(2.57,-3.36,.9),(2.47,-3.49,.55),(2.5,-3.61,.88),(2.57,-3.61,.97),(2.44,-3.68,.97),(2.28,-3.58,.88),(2.21,-3.58,.88),(2,-3.61,.88),(1.84,-3.43,.92),(1.64,-3.38,.72),(1.49,-3.38,.75),(1.53,-3.49,.7),(1.64,-3.49,.88),(1.67,-3.63,.92),(1.56,-3.74,.95),(1.69,-3.74,.95),(1.82,-3.81,.9),(1.89,-3.87,.88),(2.02,-3.82,.88),(2.17,-3.76,.72),(1.75,-4,.9),(1.5,-4.05,.9),(1.41,-3.91,.95),(1.32,-3.81,.97),(1.34,-3.63,.97),(1.13,-3.65,.88),(.98,-3.78,.88),(1.13,-3.74,.88),(.77,-3.71,.88),(.79,-3.81,.88),(1.04,-3.82,.88),(1,-3.99,.75),(1.17,-3.97,.9),(1.23,-3.91,.88),(.84,-4.13,.7),(1.04,-4.07,.9),(1.28,-4.02,.92),(1.28,-4.15,.97),(1.38,-4.07,.95),(1.58,-4.19,.95),
(.74,-3.27,.85),(.82,-3.24,.85),(.9,-3.24,.85),(.92,-3.3,.85),(.74,-3.36,.85),(.87,-3.36,.85),(.81,-3.48,.85),(.94,-3.51,.85),(.74,-3.51,.85)]

right_cluster = [(3.15,2.15,.45),(3.45,2.22,.48),(3.24,1.9,.47),(3.52,1.87,.53),(3.01,1.81,.47),(2.92,1.73,.38),(3.19,1.7,.45),(3.32,1.67,.42),(2.97,1.57,.45),(3.07,1.51,.47),(3.75,1.64,.55),(4,1.61,.47),(4.11,1.52,.75),(4.12,1.49,.55),(3.35,1.43,.5),(3.55,1.41,.5),(3.7,1.47,.55),(2.96,1.41,.6),(3.01,1.38,.45),(3.94,1.4,.65),(3.88,1.29,.55),(4.04,1.26,.6),(4.14,1.3,.65),(4.15,1.18,.68),(4.11,1.12,.68),(2.92,1.2,.47),(2.74,1.1,.47),(2.92,1.09,.7),(2.96,1.13,.47),(3.01,1.03,.47),(3.14,1.06,.5),(3.16,1.01,.55),(3.28,1.04,.5),(3.34,1.03,.78),(3.37,.96,.7),(3.47,1.08,.55),(3.54,1.16,.55),(3.59,1.13,.6),(3.73,1.12,.6),(3.55,1.03,.65),(3.62,.98,.7),(3.66,.93,.72),(3.8,.98,.65),(3.02,.92,.6),(3.04,.83,.62),(3.75,.89,.55),(3.88,.89,.6),(4.01,.87,.6),(4.33,1.01,.65),(4.37,.91,.85),(4.32,.83,.58),(4.1,.79,.7),(3.8,.8,.65),(3.94,.73,.72),(3.68,.83,.7),(4,.67,.78),(3.29,.64,.72),(3.47,.69,.65),(3.47,.64,.65),(3.58,.69,.62),(3.66,.66,.7),(3.76,.68,.7),(4.22,.67,.85),(4.44,.7,.85),(4.33,.59,.85),(4.02,.62,.8),(3.85,.57,.85),(3.94,.51,.8),(4.11,.57,.72),(3.14,.53,.72),(3.34,.47,.7),(3.69,.51,.72),(4.48,.54,.65),(4.62,.52,.85),(4.52,.46,.87),(3.52,.4,.85),(4.15,.41,.72),(3.8,.43,.55),(3.66,.46,.9),(3.76,.41,.85),(4.04,.36,.85),(3.58,.35,.75),(3.73,.31,.8),(3.97,.31,.75),(4.24,.32,.85),(4.37,.3,.85),(4.61,.28,.85),(3.36,.23,.87),(3.5,.22,.8),(3.6,.19,.85),(3.69,.2,.87),(3.79,.17,.85),(4.09,.2,.85),(4.24,.24,.85),(4.53,.21,.85),(3.94,.11,.85),(4.09,.09,.82),(4.31,.13,.87),(4.54,.1,.87),(4.67,.11,.87),(4.85,.13,1),(3.37,.07,.87),(3.76,.02,.85),(3.97,0,.87),(4.25,.02,.85),(4.86,0,.97),(4.07,-.07,.9),(4.18,-.1,.87),(4.33,-.08,.92),(4.48,-.1,.9),(4.87,-.1,.97),(2.48,-.08,1),(2.72,-.08,1),(3.22,-.08,.85),(3.18,-.17,.85),(3.56,-.16,.85),(3.67,-.18,.85),(3.81,-.1,.87),(3.84,-.18,.92),(4.27,-.18,.97),(4.37,-.16,.9),(4.48,-.21,.97),(4.94,-.18,.97),(5.02,-.29,1),(4.81,-.28,.97),(4.89,-.23,.97),(3.62,-.25,.85),(3.91,-.28,.92),(4.22,-.26,.97),(4.33,-.31,1),(4.45,-.28,1),(3.66,-.33,.92),(3.8,-.34,.87),(4.02,-.36,.95),(4.11,-.38,.95),(4.28,-.4,1),(4.38,-.4,1),(4.51,-.34,.95),(4.62,-.38,.95),(4.71,-.44,.97),(4.83,-.49,1),(4.14,-.44,.97),(4.32,-.46,.97),(3.59,-.51,.95),(4.56,-.51,1),(4.2,-.55,1),(4.09,-.55,.97),(4.01,-.59,.97),(3.96,-.69,1),(4.54,-.74,1),(4.78,-.61,1)]

regions = [top_dark, col_upper, col_lower, band, band_between, upper_scatter, left_lower, bottom_mid, bottom_extra, bottom_right, right_cluster, right_of_core, upper_orange, green_core, core]
z1 = [p[0] for r in regions for p in r]
z2 = [p[1] for r in regions for p in r]
value = [p[2] for r in regions for p in r]

tick_x = [-4, -2, 0, 2, 4, 6]
tick_x_text = ["-4", "-2", "0", "2", "4", "6"]
tick_y = [-6, -4, -2, 0, 2, 4, 6]
tick_y_text = ["-6", "-4", "-2", "0", "2", "4", "6"]
tick_c = [0, .1, .2, .3, .4, .5, .6, .7, .8, .9, 1]
tick_c_text = ["0", "0.1", "0.2", "0.3", "0.4", "0.5", "0.6", "0.7", "0.8", "0.9", "1"]

parula_like = [[0, "#3b2a98"], [.1, "#4533d2"], [.17, "#4450f2"], [.22, "#3f62fa"], [.3, "#2a86e8"],
               [.4, "#1aa6d0"], [.5, "#0fb8bf"], [.6, "#35c08a"], [.7, "#8fbf4a"], [.75, "#b8b030"],
               [.8, "#dfa82f"], [.85, "#ffb030"], [.9, "#fad420"], [1, "#ffff0c"]]

INK = "#333333"
LINE = "#404040"
fig = go.Figure(go.Scatter(
    x=z1, y=z2, mode="markers",
    marker=dict(size=5.9, color=value, cmin=0, cmax=1, colorscale=parula_like, line=dict(width=0),
                colorbar=dict(x=1.023, xanchor="left", y=0.5, yanchor="middle", len=1, lenmode="fraction",
                              thickness=27, thicknessmode="pixels", outlinecolor="#666666", outlinewidth=1,
                              tickmode="array", tickvals=tick_c, ticktext=tick_c_text, ticks="inside", ticklen=6,
                              tickcolor=LINE, tickfont=dict(family="DejaVu Sans", size=20, color=INK), xpad=0, ypad=0)),
    hoverinfo="skip"))
axis = dict(showgrid=False, zeroline=False, showline=True, linecolor=LINE, linewidth=2, ticks="inside", ticklen=6,
            tickcolor=LINE, mirror=False, tickfont=dict(family="DejaVu Sans", size=20, color=INK))
fig.update_layout(
    width=771, height=723, autosize=False, showlegend=False,
    paper_bgcolor="white", plot_bgcolor="white",
    margin=dict(l=67, r=92, t=28, b=82, autoexpand=False),
    title=dict(text="<b>ReducedMaxCardinality</b>", x=372/771, xanchor="center", y=1-11/723, yanchor="middle",
               font=dict(family="DejaVu Sans", size=21, color="#111111")),
    xaxis=dict(axis, range=[-5, 7], tickmode="array", tickvals=tick_x, ticktext=tick_x_text,
               title=dict(text="z<sub>1</sub>", standoff=14, font=dict(family="DejaVu Sans", size=22, color=INK))),
    yaxis=dict(axis, range=[-6, 6], tickmode="array", tickvals=tick_y, ticktext=tick_y_text,
               title=dict(text="z<sub>2</sub>", standoff=18, font=dict(family="DejaVu Sans", size=22, color=INK))),
)
fig.write_html("out.html")
